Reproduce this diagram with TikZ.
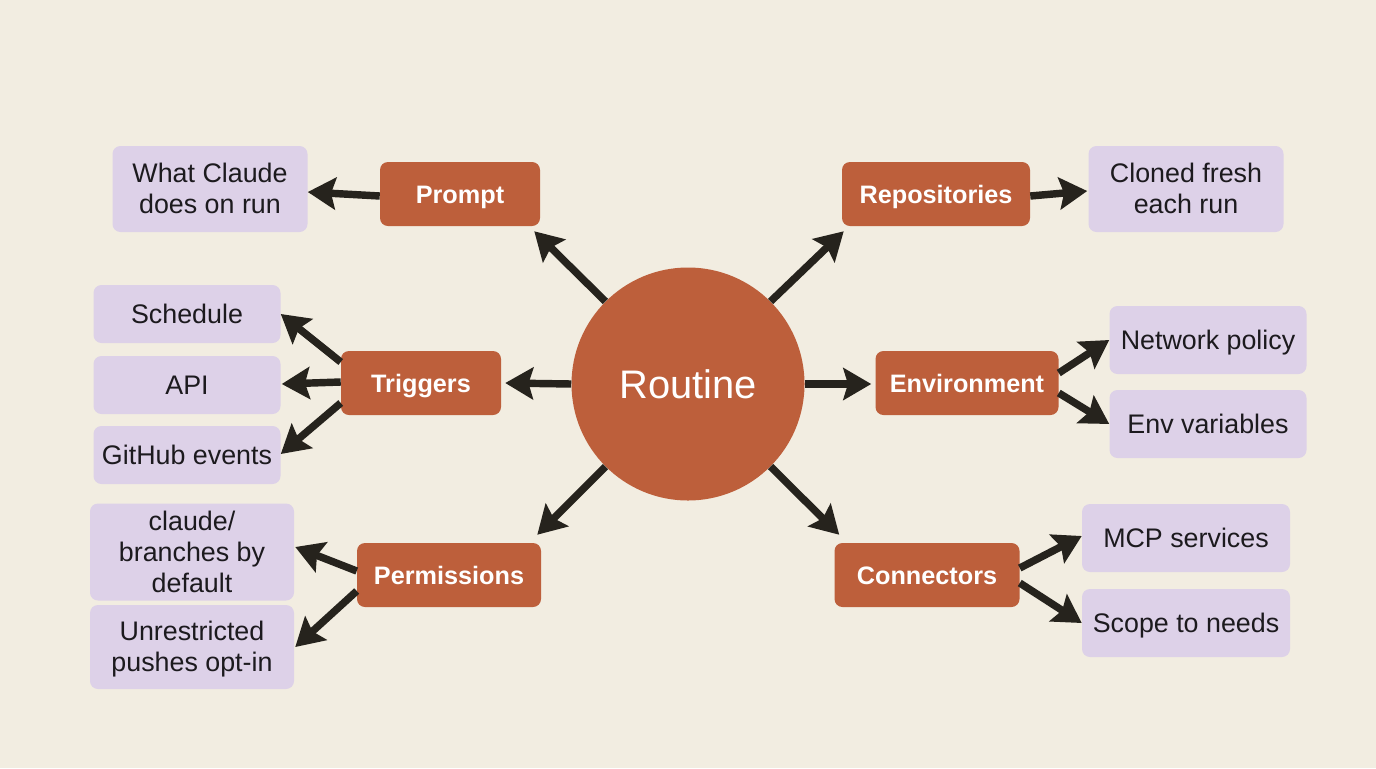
\documentclass[tikz,border=0pt]{standalone}
\usepackage{fontspec}
\setmainfont{Liberation Sans}
\usetikzlibrary{arrows.meta,calc}
\definecolor{bgc}{HTML}{F2EDE1}
\definecolor{rust}{HTML}{BD5F3B}
\definecolor{lil}{HTML}{DDD1E8}
\definecolor{ink}{HTML}{26231D}
\definecolor{txt}{HTML}{1C1A1E}
\newcommand{\px}{0.0264583cm}
\newcommand{\st}{\rule[-0.2\baselineskip]{0pt}{\baselineskip}}
\tikzset{x=0.0264583cm,y=-0.0264583cm,
 main/.style={fill=rust,rounded corners=6pt,text=white,align=center,font=\fontsize{19}{23}\selectfont\bfseries,inner sep=0pt},
 leaf/.style={fill=lil,rounded corners=6pt,text=txt,align=center,font=\fontsize{20.2}{23.5}\selectfont,inner sep=0pt},
 conn/.style={draw=ink,line width=5.6pt,-{Stealth[length=21pt,width=24pt,inset=3.5pt]}}}
\newcommand{\bx}[7]{\node[#1,minimum width=#5*\px,minimum height=#6*\px] (#2) at (#3,#4) {#7};}
\begin{document}
\begin{tikzpicture}
\useasboundingbox (0,0) rectangle (1376,768);
\fill[bgc] (0,0) rectangle (1376,768);
\node[circle,fill=rust,text=white,minimum size=233*\px,inner sep=0pt,font=\fontsize{30}{32}\selectfont] (root) at (688,384) {Routine};
\bx{main}{prompt}{460}{194}{160}{64}{\st Prompt}
\bx{main}{repos}{936}{194}{188}{64}{\st Repositories}
\bx{main}{trig}{421}{383}{160}{64}{\st Triggers}
\bx{main}{env}{967}{383}{183}{64}{\st Environment}
\bx{main}{perm}{449}{575}{184}{64}{\st Permissions}
\bx{main}{conn1}{927}{575}{185}{64}{\st Connectors}
\bx{leaf}{what}{210}{189}{195}{86}{\st What Claude\\\st does on run}
\bx{leaf}{clone}{1186}{189}{195}{86}{\st Cloned fresh\\\st each run}
\bx{leaf}{sched}{187}{314}{187}{58}{\st Schedule}
\bx{leaf}{api}{187}{385}{187}{58}{\st API}
\bx{leaf}{gh}{187}{455}{187}{58}{\st GitHub events}
\bx{leaf}{net}{1208}{340}{197}{68}{\st Network policy}
\bx{leaf}{envv}{1208}{424}{197}{68}{\st Env variables}
\bx{leaf}{claude}{192}{552}{204}{97}{\st claude/\\\st branches by\\\st default}
\bx{leaf}{unres}{192}{647}{204}{84}{\st Unrestricted\\\st pushes opt-in}
\bx{leaf}{mcp}{1186}{538}{208}{68}{\st MCP services}
\bx{leaf}{scope}{1186}{623}{208}{68}{\st Scope to needs}
\draw[conn] (root.135) -- ($(prompt.south east)+(-6,5)$);
\draw[conn] (root.45) -- ($(repos.south west)+(2,5)$);
\draw[conn] (root.west) -- ($(trig.east)+(4,0)$);
\draw[conn] (root.east) -- ($(env.west)+(-4,1)$);
\draw[conn] (root.225) -- ($(perm.north east)+(-4,-8)$);
\draw[conn] (root.315) -- ($(conn1.north west)+(5,-8)$);
\draw[conn] ($(prompt.west)+(0,2)$) -- ($(what.east)+(0,3)$);
\draw[conn] ($(repos.east)+(0,2)$) -- ($(clone.west)+(-1,2)$);
\draw[conn] ($(trig.west)+(0,-21)$) -- (sched.east);
\draw[conn] ($(trig.west)+(0,-1)$) -- ($(api.east)+(1,-1)$);
\draw[conn] ($(trig.west)+(0,20)$) -- ($(gh.east)+(0,-1)$);
\draw[conn] ($(env.east)+(0,-10)$) -- (net.west);
\draw[conn] ($(env.east)+(0,10)$) -- (envv.west);
\draw[conn] ($(perm.west)+(0,-4)$) -- ($(claude.east)+(1,-5)$);
\draw[conn] ($(perm.west)+(0,16)$) -- ($(unres.east)+(1,0)$);
\draw[conn] ($(conn1.east)+(0,-7)$) -- ($(mcp.west)+(0,-2)$);
\draw[conn] ($(conn1.east)+(0,8)$) -- (scope.west);
\end{tikzpicture}
\end{document}
